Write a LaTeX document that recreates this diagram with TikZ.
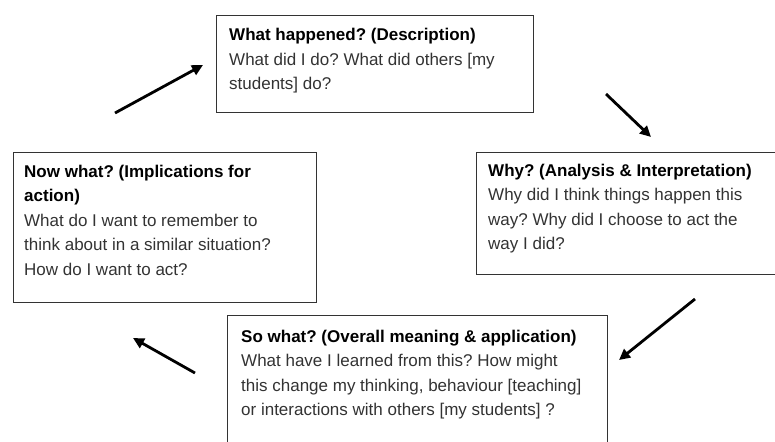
\documentclass[tikz,border=0pt]{standalone}
\usepackage{fontspec}
\setmainfont{Liberation Sans}
\usetikzlibrary{arrows.meta,calc}
\frenchspacing
\begin{document}
\begin{tikzpicture}[x=1pt,y=-1pt,
  box/.style={draw=black!80,line width=1.2pt,fill=white,inner sep=0pt,anchor=north west},
  txt/.style={inner sep=0pt,anchor=base west,text=black!80,font=\fontsize{17}{24.5}\selectfont},
  arr/.style={line width=2.8pt,-{Triangle[length=11pt,width=10.5pt]}}]
\useasboundingbox (0,0) rectangle (775,441);
\clip (0,0) rectangle (775,441);
% boxes
\node[box,minimum width=317pt,minimum height=97pt] (topbox) at (216,15) {};
\node[box,minimum width=303pt,minimum height=150pt] (leftbox) at (13,152) {};
\node[box,minimum width=314pt,minimum height=122pt] (rightbox) at (476,152) {};
\node[box,minimum width=380pt,minimum height=155pt] (botbox) at (227,315) {};
% texts
\node[txt] (toptext) at ($(topbox.north west)+(13,26)$) {\parbox[t]{330pt}{\raggedright\textcolor{black}{\textbf{What happened? (Description)}}\\What did I do? What did others [my\\students] do?}};
\node[txt] (lefttext) at ($(leftbox.north west)+(11,25)$) {\parbox[t]{300pt}{\raggedright\textcolor{black}{\textbf{Now what? (Implications for}}\\\textcolor{black}{\textbf{action)}}\\What do I want to remember to\\think about in a similar situation?\\How do I want to act?}};
\node[txt] (righttext) at ($(rightbox.north west)+(12,24)$) {\parbox[t]{300pt}{\raggedright\textcolor{black}{\textbf{Why? (Analysis \& Interpretation)}}\\Why did I think things happen this\\way? Why did I choose to act the\\way I did?}};
\node[txt] (bottext) at ($(botbox.north west)+(14,27)$) {\parbox[t]{380pt}{\raggedright\textcolor{black}{\textbf{So what? (Overall meaning \& application)}}\\What have I learned from this? How might\\this change my thinking, behaviour [teaching]\\or interactions with others [my students] ?}};
% arrows
\coordinate (a1s) at (115,113); \coordinate (a1e) at (203,65);
\coordinate (a2s) at (606,94);  \coordinate (a2e) at (651,137);
\coordinate (a3s) at (695,299); \coordinate (a3e) at (619,360);
\coordinate (a4s) at (195,373); \coordinate (a4e) at (133,338);
\draw[arr] (a1s) -- (a1e);
\draw[arr] (a2s) -- (a2e);
\draw[arr] (a3s) -- (a3e);
\draw[arr] (a4s) -- (a4e);
\end{tikzpicture}
\end{document}
